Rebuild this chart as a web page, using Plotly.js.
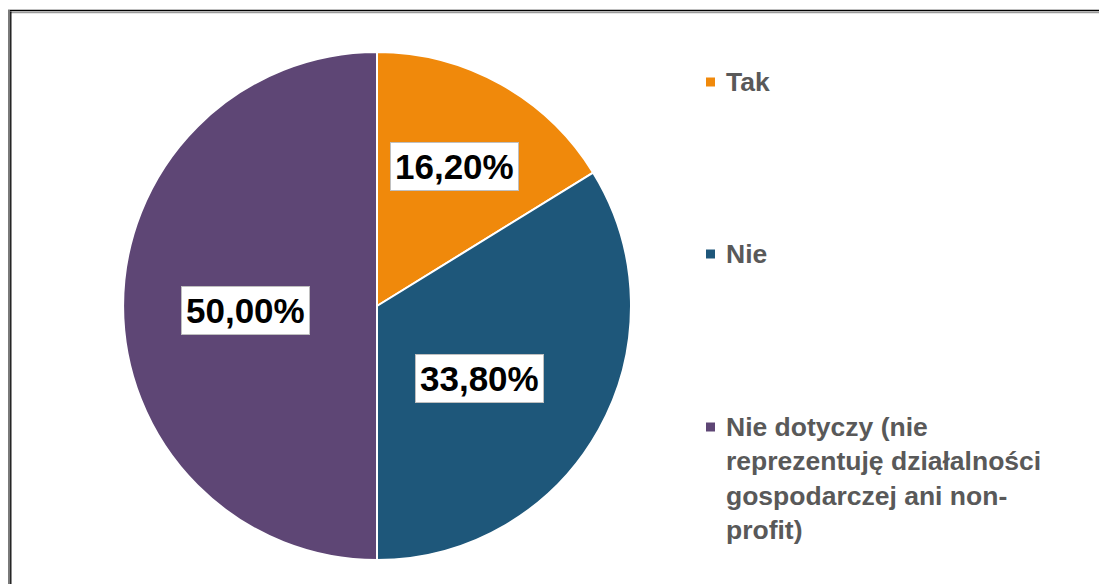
<!DOCTYPE html>
<html>
<head>
<meta charset="utf-8">
<script src="https://cdn.plot.ly/plotly-3.0.1.min.js"></script>
<style>
html,body{margin:0;padding:0;background:#fff;}
#chart{width:1099px;height:584px;}
</style>
</head>
<body>
<div id="chart"></div>
<script>
// ---- data ----
const categories = ["Tak", "Nie", "Nie dotyczy (nie reprezentuję działalności gospodarczej ani non-profit)"];
const legendLabels = ["Tak", "Nie", "Nie dotyczy (nie<br>reprezentuję działalności<br>gospodarczej ani non-<br>profit)"];
const values = [16.20, 33.80, 50.00];

// ---- style ----
const colors = ["#F0890B", "#1E577A", "#5E4675"];
const W = 1099, H = 584;
const cx = 377, cy = 306, R = 254;          // pie geometry in px
const labelRadius = [0.63, 0.495, 0.52];     // label distance as fraction of radius
const labelAngleShift = [0, 6, -2];          // degrees
const legendRowY = [82, 254, 427];           // first-line centre of each legend entry (px)
const legendFont = 26.5;
const legendLineH = legendFont * 1.3;
const fontFam = "Liberation Sans, Arial, sans-serif";

const px = x => x / W;
const py = y => 1 - y / H;

const trace = {
  type: "pie",
  labels: categories,
  values: values,
  sort: false,
  direction: "clockwise",
  rotation: 0,
  marker: {colors: colors, line: {color: "#ffffff", width: 2}},
  textinfo: "none",
  hoverinfo: "label+percent",
  domain: {x: [0, 2 * cx / W], y: [py(cy + R), py(cy - R)]},
  showlegend: false
};

const total = values.reduce((a, b) => a + b, 0);
const annotations = [];
const shapes = [];
let cum = 0;
values.forEach((v, i) => {
  const mid = (cum + v / 2) / total * 2 * Math.PI + labelAngleShift[i] * Math.PI / 180;
  cum += v;
  const r = R * labelRadius[i];
  annotations.push({
    xref: "paper", yref: "paper",
    x: px(cx + r * Math.sin(mid)), y: py(cy - r * Math.cos(mid)),
    xanchor: "center", yanchor: "middle",
    text: v.toFixed(2).replace(".", ",") + "%",
    showarrow: false,
    font: {family: fontFam, size: 35, color: "#000000", weight: "bold"},
    bgcolor: "#ffffff", bordercolor: "#bfbfbf", borderwidth: 1, borderpad: 4
  });
  // legend marker
  shapes.push({
    type: "rect", xref: "paper", yref: "paper",
    x0: px(706), x1: px(715), y0: py(legendRowY[i] - 4.5), y1: py(legendRowY[i] + 4.5),
    fillcolor: colors[i], line: {width: 0}
  });
  const nLines = legendLabels[i].split("<br>").length;
  annotations.push({
    xref: "paper", yref: "paper",
    x: px(724), y: py(legendRowY[i] + (nLines - 1) * legendLineH / 2),
    xanchor: "left", yanchor: "middle", align: "left",
    text: legendLabels[i], showarrow: false,
    font: {family: fontFam, size: legendFont, color: "#595959", weight: "bold"}
  });
});

// frame (double line, top and left)
shapes.push(
  {type: "line", xref: "paper", yref: "paper", x0: px(8), x1: 1, y0: py(10.5), y1: py(10.5), line: {color: "#000", width: 1.5}},
  {type: "line", xref: "paper", yref: "paper", x0: px(10), x1: 1, y0: py(12.5), y1: py(12.5), line: {color: "#9a9a9a", width: 1.5}},
  {type: "line", xref: "paper", yref: "paper", x0: px(9), x1: px(9), y0: py(10), y1: 0, line: {color: "#7a7a7a", width: 2}},
  {type: "line", xref: "paper", yref: "paper", x0: px(10.8), x1: px(10.8), y0: py(11.5), y1: 0, line: {color: "#000", width: 1.3}}
);

const layout = {
  width: W, height: H,
  margin: {l: 0, r: 0, t: 0, b: 0},
  paper_bgcolor: "#ffffff",
  plot_bgcolor: "#ffffff",
  showlegend: false,
  annotations: annotations,
  shapes: shapes
};

Plotly.newPlot("chart", [trace], layout, {displayModeBar: false, staticPlot: true});
</script>
</body>
</html>
